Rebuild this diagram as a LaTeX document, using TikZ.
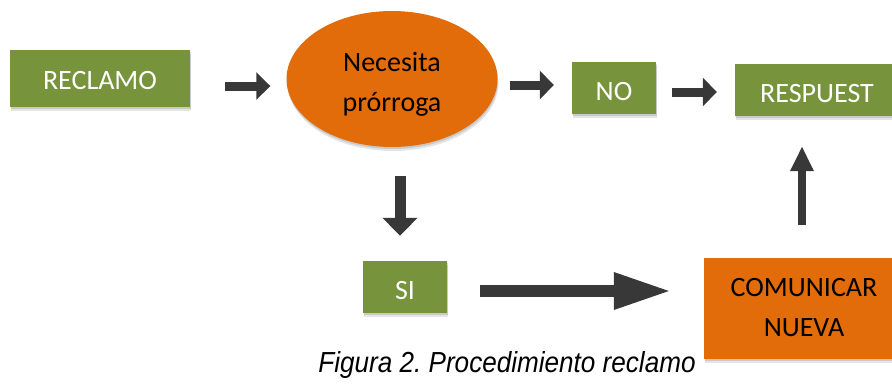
\documentclass[tikz,border=0pt]{standalone}
\usepackage{fontspec}
\setmainfont{Carlito}
\newfontfamily\captionfont{Liberation Sans}
\usetikzlibrary{shapes.geometric, arrows.meta, shadows}
\definecolor{boxgreen}{HTML}{77933C}
\definecolor{boxorange}{HTML}{E36C0A}
\definecolor{arrowgray}{HTML}{383838}
\tikzset{
	softshadow/.style = {drop shadow = {shadow xshift = 1pt, shadow yshift = -4pt, opacity = 0.1, fill = black}, drop shadow = {shadow xshift = 0.5pt, shadow yshift = -2pt, opacity = 0.12, fill = black}},
	greenbox/.style = {rectangle, fill = boxgreen, text = white, inner sep = 0pt, minimum height = 52pt, text height = 24pt, text depth = 0pt, font = \fontsize{28}{38}\selectfont, softshadow},
	orangebox/.style = {fill = boxorange, text = black, inner sep = 0pt, align = center, font = \fontsize{28}{40}\selectfont, softshadow},
	barrow/.style n args = {3}{draw = arrowgray, line width = #1, -{Triangle[length = #2, width = #3]}}
}
\begin{document}
\frenchspacing
\begin{tikzpicture}[x = 1pt, y = -1pt]
		\useasboundingbox (0, 0) rectangle (892, 384);
		% boxes
		\node[greenbox, minimum width = 180pt, minimum height = 57pt, text height = 22pt] (reclamo) at (100, 78) {RECLAMO};
		\node[orangebox, ellipse, minimum width = 211pt, minimum height = 136pt] (necesita) at (392, 79) {\rule{0pt}{30pt}Necesita\\pr\'orroga};
		\node[greenbox, minimum width = 84pt] (no) at (614, 88) {NO};
		\node[greenbox, minimum width = 164pt] (respuesta) at (817, 90) {RESPUEST};
		\node[greenbox, minimum width = 84pt] (si) at (405, 287) {SI};
		\node[orangebox, rectangle, minimum width = 200pt, minimum height = 101pt] (comunicar) at (804, 308) {COMUNICAR\\NUEVA};
		% caption
		\node[anchor = base, xscale = 0.9, font = \captionfont\itshape\fontsize{29}{34}\selectfont] (caption) at (507, 372) {Figura 2. Procedimiento reclamo};
		% arrows
		\draw[barrow = {9pt}{14pt}{27pt}] ([xshift = 35pt, yshift = -8pt]reclamo.east) -- ([xshift = -16pt, yshift = -7pt]necesita.west);
		\draw[barrow = {9pt}{14pt}{28pt}] ([xshift = 12pt, yshift = -6pt]necesita.east) -- ([xshift = -18pt, yshift = 3pt]no.west);
		\draw[barrow = {9pt}{14pt}{28pt}] ([xshift = 16pt, yshift = -4pt]no.east) -- ([xshift = -18pt, yshift = -2pt]respuesta.west);
		\draw[barrow = {11pt}{18pt}{34pt}] ([xshift = 8pt, yshift = -29pt]necesita.south) -- ([xshift = -5pt, yshift = 25pt]si.north);
		\draw[barrow = {12pt}{58pt}{34pt}] ([xshift = 33pt, yshift = -4pt]si.east) -- ([xshift = -32pt, yshift = 17pt]comunicar.west);
		\draw[barrow = {8pt}{25pt}{22pt}] ([xshift = -2pt, yshift = 32pt]comunicar.north) -- ([xshift = -15pt, yshift = -30pt]respuesta.south);
	\end{tikzpicture}
\end{document}
